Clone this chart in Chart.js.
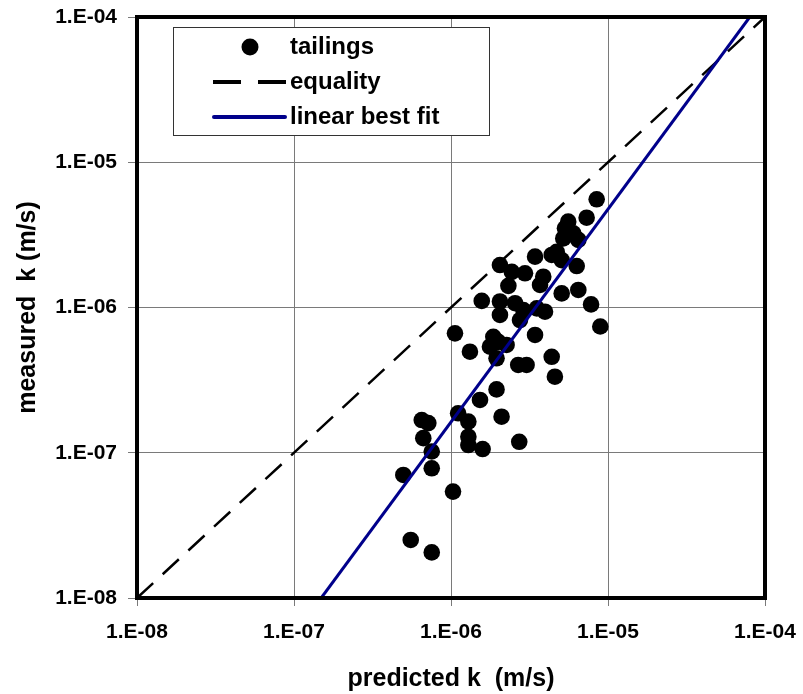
<!DOCTYPE html>
<html>
<head>
<meta charset="utf-8">
<script src="https://cdn.jsdelivr.net/npm/chart.js@4"></script>
<style>
  html, body { margin: 0; padding: 0; background: #ffffff; }
  #wrap { width: 803px; height: 694px; }
</style>
</head>
<body>
<div id="wrap"><canvas id="c" width="803" height="694"></canvas></div>
<script>
// ---- data ----
const predicted = [
  8.47e-6, 7.31e-6, 5.58e-6, 5.32e-6, 6.01e-6, 6.47e-6, 4.71e-6, 4.38e-6, 5.07e-6, 6.32e-6,
  3.43e-6, 2.96e-6, 3.87e-6, 3.69e-6, 5.07e-6, 6.47e-6, 7.80e-6, 8.93e-6, 2.05e-6, 2.44e-6,
  2.32e-6, 1.57e-6, 2.05e-6, 2.56e-6, 2.89e-6, 2.05e-6, 2.75e-6, 3.52e-6, 3.97e-6, 1.06e-6,
  1.86e-6, 3.43e-6, 1.32e-6, 1.77e-6, 2.26e-6, 1.95e-6, 2.68e-6, 3.03e-6, 4.38e-6, 4.59e-6,
  1.95e-6, 1.53e-6, 1.11e-6, 1.29e-6, 2.10e-6, 1.29e-6, 1.29e-6, 1.59e-6, 2.72e-6, 6.51e-7,
  7.17e-7, 6.66e-7, 7.54e-7, 7.54e-7, 4.97e-7, 1.03e-6, 5.54e-7, 7.54e-7, 5.19e-6, 2.00e-6
];
const measured = [
  5.56e-6, 4.15e-6, 3.90e-6, 3.51e-6, 3.24e-6, 2.92e-6, 2.42e-6, 2.30e-6, 2.12e-6, 1.93e-6,
  2.24e-6, 1.72e-6, 1.63e-6, 1.43e-6, 1.25e-6, 1.32e-6, 1.05e-6, 7.40e-7, 1.96e-6, 1.76e-6,
  1.41e-6, 1.11e-6, 1.10e-6, 1.07e-6, 9.61e-7, 8.88e-7, 8.20e-7, 9.87e-7, 9.35e-7, 6.64e-7,
  6.29e-7, 6.47e-7, 4.96e-7, 5.37e-7, 5.52e-7, 4.47e-7, 4.02e-7, 4.02e-7, 4.58e-7, 3.34e-7,
  2.73e-7, 2.31e-7, 1.87e-7, 1.64e-7, 1.77e-7, 1.29e-7, 1.13e-7, 1.06e-7, 1.19e-7, 1.68e-7,
  1.60e-7, 1.26e-7, 1.02e-7, 7.82e-8, 7.03e-8, 5.40e-8, 2.51e-8, 2.06e-8, 2.99e-6, 5.80e-7
];
const equalityX = [1e-8, 1e-4];
const equalityY = [1e-8, 1e-4];
const fitX = [1.49e-7, 8.0e-5];
const fitY = [1e-8, 1e-4];
const tickValues = [1e-8, 1e-7, 1e-6, 1e-5, 1e-4];
const tickLabels = ['1.E-08', '1.E-07', '1.E-06', '1.E-05', '1.E-04'];
const seriesNames = ['tailings', 'equality', 'linear best fit'];
const xTitle = 'predicted k  (m/s)';
const yTitle = 'measured  k (m/s)';

// ---- styles ----
const FONT = '"Liberation Sans", Arial, Helvetica, sans-serif';
const BLUE = '#00008B';
const GRID = '#7a7a7a';

const toPts = (xs, ys) => xs.map((x, i) => ({ x: x, y: ys[i] }));

const frameAndLegend = {
  id: 'frameAndLegend',
  afterDatasetsDraw(chart) {
    const ctx = chart.ctx;
    ctx.save();
    // legend box
    const bx = 173, by = 27, bw = 316, bh = 108;
    ctx.fillStyle = '#ffffff';
    ctx.fillRect(bx, by, bw, bh);
    ctx.strokeStyle = '#333333';
    ctx.lineWidth = 1;
    ctx.strokeRect(bx + 0.5, by + 0.5, bw, bh);
    const ds = chart.data.datasets;
    // marker
    ctx.fillStyle = '#000000';
    ctx.beginPath();
    ctx.arc(250, 47, 8.5, 0, Math.PI * 2);
    ctx.fill();
    // dashed
    ctx.strokeStyle = '#000000';
    ctx.lineWidth = 4;
    ctx.setLineDash([28, 17]);
    ctx.beginPath();
    ctx.moveTo(213, 82); ctx.lineTo(286, 82);
    ctx.stroke();
    ctx.setLineDash([]);
    // solid blue
    ctx.strokeStyle = BLUE;
    ctx.lineWidth = 4;
    ctx.lineCap = 'round';
    ctx.beginPath();
    ctx.moveTo(214, 117); ctx.lineTo(285, 117);
    ctx.stroke();
    ctx.lineCap = 'butt';
    // texts
    ctx.fillStyle = '#000000';
    ctx.font = 'bold 24px ' + FONT;
    ctx.textAlign = 'left';
    ctx.textBaseline = 'middle';
    const ys = [47, 82, 117];
    ds.forEach((d, i) => ctx.fillText(d.label, 290, ys[i]));
    ctx.restore();
  },
  afterDraw(chart) {
    const ctx = chart.ctx;
    const a = chart.chartArea;
    ctx.save();
    ctx.strokeStyle = '#000000';
    ctx.lineWidth = 4;
    ctx.strokeRect(a.left, a.top, a.right - a.left, a.bottom - a.top);
    ctx.restore();
  }
};

const decadeTicks = (scale) => {
  scale.ticks = tickValues.map(v => ({ value: v }));
};

new Chart(document.getElementById('c'), {
  type: 'scatter',
  data: {
    datasets: [
      {
        label: seriesNames[0],
        data: toPts(predicted, measured),
        backgroundColor: '#000000',
        borderColor: '#000000',
        pointRadius: 8.3,
        pointHoverRadius: 8.3,
        borderWidth: 0,
        showLine: false,
        order: 3
      },
      {
        label: seriesNames[1],
        data: toPts(equalityX, equalityY),
        showLine: true,
        borderColor: '#000000',
        borderWidth: 2.5,
        borderDash: [22, 13],
        pointRadius: 0,
        fill: false,
        order: 2
      },
      {
        label: seriesNames[2],
        data: toPts(fitX, fitY),
        showLine: true,
        borderColor: BLUE,
        borderWidth: 3,
        pointRadius: 0,
        fill: false,
        order: 1
      }
    ]
  },
  options: {
    responsive: false,
    animation: false,
    devicePixelRatio: 1,
    layout: { padding: { top: 17, right: 38, left: 0, bottom: 0 } },
    plugins: { legend: { display: false }, tooltip: { enabled: false } },
    scales: {
      x: {
        type: 'logarithmic',
        min: 1e-8, max: 1e-4,
        afterBuildTicks: decadeTicks,
        afterFit: (s) => { s.height = 96; s.paddingLeft = 0; s.paddingRight = 0; },
        grid: { color: GRID, lineWidth: 1, tickLength: 8, drawTicks: true },
        border: { display: false },
        ticks: {
          autoSkip: false, maxRotation: 0,
          padding: 14,
          color: '#000000',
          font: { family: FONT, size: 21, weight: 'bold' },
          callback: (v, i) => tickLabels[i]
        },
        title: {
          display: true, text: xTitle, color: '#000000',
          font: { family: FONT, size: 25, weight: 'bold' },
          padding: { top: 0, bottom: 0 }
        }
      },
      y: {
        type: 'logarithmic',
        min: 1e-8, max: 1e-4,
        afterBuildTicks: decadeTicks,
        afterFit: (s) => { s.width = 137; s.paddingTop = 0; s.paddingBottom = 0; },
        grid: { color: GRID, lineWidth: 1, tickLength: 9, drawTicks: true },
        border: { display: false },
        ticks: {
          autoSkip: false,
          padding: 11,
          color: '#000000',
          font: { family: FONT, size: 21, weight: 'bold' },
          callback: (v, i) => tickLabels[i]
        },
        title: {
          display: true, text: yTitle, color: '#000000',
          font: { family: FONT, size: 25, weight: 'bold' },
          padding: { top: 13, bottom: 0 }
        }
      }
    }
  },
  plugins: [frameAndLegend]
});
</script>
</body>
</html>
